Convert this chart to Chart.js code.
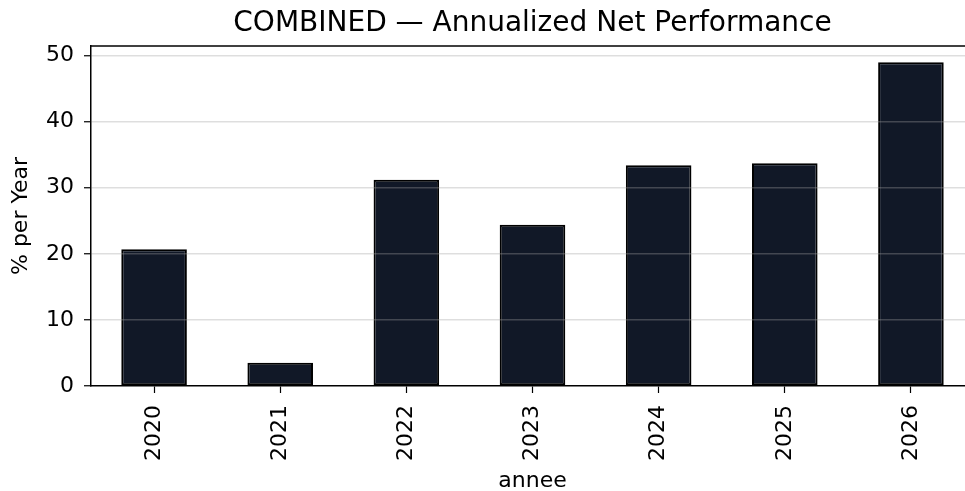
<!DOCTYPE html>
<html>
<head>
<meta charset="utf-8">
<script src="https://cdn.jsdelivr.net/npm/chart.js@4"></script>
<style>
  html, body { margin: 0; padding: 0; background: #fff; overflow: hidden; }
  #wrap { width: 975px; height: 491px; }
</style>
</head>
<body>
<div id="wrap"><canvas id="myChart" width="975" height="491"></canvas></div>
<script>
// data
const years = ['2020', '2021', '2022', '2023', '2024', '2025', '2026'];
const perfValues = [20.7, 3.5, 31.2, 24.4, 33.4, 33.7, 49.0];
const yTicks = [0, 10, 20, 30, 40, 50];
const yMax = 51.45;

const chartTitle = 'COMBINED — Annualized Net Performance';
const FONT = 'DejaVu Sans';

// title centred on the plot area + top spine
const framePlugin = {
    id: 'frame',
    afterDraw(chart) {
        const ctx = chart.ctx;
        const area = chart.chartArea;
        ctx.save();
        ctx.strokeStyle = '#000';
        ctx.lineWidth = 1.5;
        ctx.beginPath();
        ctx.moveTo(area.left, area.top);
        ctx.lineTo(area.right, area.top);
        ctx.stroke();

        ctx.fillStyle = '#000';
        ctx.font = '28px "' + FONT + '"';
        ctx.textAlign = 'center';
        ctx.textBaseline = 'middle';
        ctx.fillText(chartTitle, (area.left + area.right) / 2, 24);
        ctx.restore();
    }
};

const ctx = document.getElementById('myChart').getContext('2d');
const myChart = new Chart(ctx, {
    type: 'bar',
    data: {
        labels: years,
        datasets: [{
            label: 'perf',
            data: perfValues,
            backgroundColor: '#111827',
            borderColor: '#000000',
            borderWidth: 2,
            borderSkipped: false,
            categoryPercentage: 1.0,
            barPercentage: 0.52
        }]
    },
    options: {
        responsive: false,
        animation: false,
        layout: { padding: { top: 46, left: 0, right: 1, bottom: 0 } },
        plugins: {
            legend: { display: false },
            tooltip: { enabled: false },
            title: { display: false }
        },
        scales: {
            x: {
                offset: true,
                grid: {
                    offset: false,
                    drawOnChartArea: false,
                    tickLength: 7,
                    tickColor: '#000',
                    tickWidth: 1.2
                },
                border: { color: '#000', width: 1.5 },
                ticks: {
                    color: '#000',
                    font: { family: FONT, size: 22 },
                    maxRotation: 90,
                    minRotation: 90,
                    padding: 12
                },
                title: {
                    display: true,
                    text: 'annee',
                    color: '#000',
                    font: { family: FONT, size: 22, lineHeight: 1 },
                    padding: { top: 0, bottom: -1 }
                },
                afterFit(scale) { scale.height = 105; }
            },
            y: {
                min: 0,
                max: yMax,
                afterBuildTicks(scale) {
                    scale.ticks = yTicks.map(v => ({ value: v }));
                },
                grid: {
                    z: 1,  // grid drawn over the bars, like the original
                    color: c => (c.tick && c.tick.value === 0) ? 'rgba(0,0,0,0)' : 'rgba(160,160,160,0.35)',
                    lineWidth: 1.5,
                    tickLength: 7,
                    tickColor: '#000',
                    tickWidth: 1.2
                },
                // border must come after the grid layer
                border: { color: '#000', width: 1.5, z: 1 },
                ticks: {
                    color: '#000',
                    font: { family: FONT, size: 22 },
                    padding: 10
                },
                title: {
                    display: true,
                    text: '% per Year',
                    color: '#000',
                    font: { family: FONT, size: 22, lineHeight: 1 },
                    padding: { top: 10, bottom: 0 }
                },
                afterFit(scale) { scale.width = 91; }
            }
        }
    },
    plugins: [framePlugin]
});
</script>
</body>
</html>
